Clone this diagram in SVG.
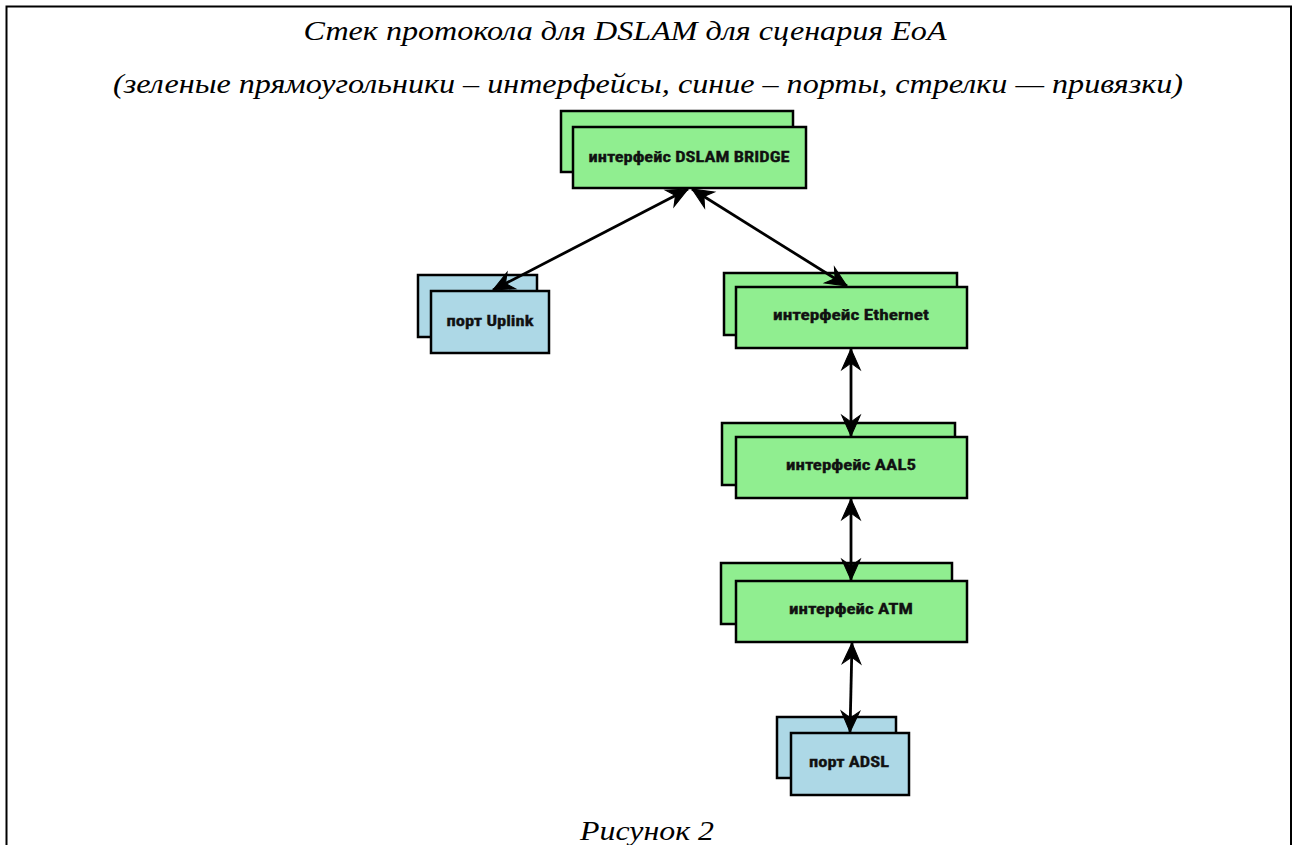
<svg xmlns="http://www.w3.org/2000/svg" width="1296" height="845" viewBox="0 0 1296 845">
<style>
.cap{font-family:"Liberation Serif","DejaVu Serif",serif;font-style:italic;font-size:28px;fill:#000;text-anchor:middle}
.g{fill:#90EE90;stroke:#000;stroke-width:2.5}
.b{fill:#ADD8E6;stroke:#000;stroke-width:2.5}
.lbl{font-family:"Liberation Sans Narrow","Roboto Condensed","Liberation Sans",sans-serif;font-weight:bold;font-size:15.5px;fill:#111;text-anchor:middle;stroke:#111;stroke-width:0.3}
.c{stroke:#000;stroke-width:2.8;fill:none;marker-start:url(#ah);marker-end:url(#ah)}
</style>
<defs>
<marker id="ah" markerUnits="userSpaceOnUse" markerWidth="26" markerHeight="26" viewBox="-22 -11 24 22" refX="0" refY="0" orient="auto-start-reverse" overflow="visible">
<path d="M0,0 L-19,-8.5 L-13,0 L-19,8.5 z" fill="#000" stroke="#000" stroke-width="1"/>
</marker>
</defs>
<rect width="1296" height="845" fill="#fff"/>
<path d="M6.5,845 V6.5 H1291 V845" fill="none" stroke="#000" stroke-width="2"/>
<text class="cap" x="625" y="40" textLength="643" lengthAdjust="spacingAndGlyphs">Стек протокола для DSLAM для сценария EoA</text>
<text class="cap" x="648" y="93" textLength="1070" lengthAdjust="spacingAndGlyphs">(зеленые прямоугольники – интерфейсы, синие – порты, стрелки — привязки)</text>
<text class="cap" x="647" y="840" textLength="134" lengthAdjust="spacingAndGlyphs">Рисунок 2</text>
<g id="bridge">
<rect class="g" x="561" y="111" width="232" height="61"/>
<rect class="g" x="573" y="127" width="233" height="61"/>
<text class="lbl" x="689" y="162" textLength="201" lengthAdjust="spacingAndGlyphs">интерфейс DSLAM BRIDGE</text>
</g>
<g id="uplink">
<rect class="b" x="418" y="275" width="119" height="62"/>
<rect class="b" x="431" y="291" width="118" height="62"/>
<text class="lbl" x="490" y="326" textLength="87" lengthAdjust="spacingAndGlyphs">порт Uplink</text>
</g>
<g id="ethernet">
<rect class="g" x="724" y="273" width="233" height="62"/>
<rect class="g" x="736" y="287" width="231" height="61"/>
<text class="lbl" x="851" y="320" textLength="156" lengthAdjust="spacingAndGlyphs">интерфейс Ethernet</text>
</g>
<g id="aal5">
<rect class="g" x="722" y="423" width="233" height="62"/>
<rect class="g" x="736" y="437" width="231" height="61"/>
<text class="lbl" x="851" y="470" textLength="130" lengthAdjust="spacingAndGlyphs">интерфейс AAL5</text>
</g>
<g id="atm">
<rect class="g" x="721" y="563" width="231" height="61"/>
<rect class="g" x="736" y="581" width="231" height="61"/>
<text class="lbl" x="851" y="614" textLength="124" lengthAdjust="spacingAndGlyphs">интерфейс ATM</text>
</g>
<g id="adsl">
<rect class="b" x="777" y="717" width="119" height="61"/>
<rect class="b" x="791" y="733" width="118" height="62"/>
<text class="lbl" x="849" y="767" textLength="80" lengthAdjust="spacingAndGlyphs">порт ADSL</text>
</g>
<g id="connectors">
<line class="c" x1="688" y1="189" x2="493" y2="290"/>
<line class="c" x1="692" y1="189" x2="847" y2="286"/>
<line class="c" x1="851" y1="349" x2="851" y2="436"/>
<line class="c" x1="851" y1="499" x2="851" y2="580"/>
<line class="c" x1="852" y1="643" x2="850" y2="732"/>
</g>
</svg>
